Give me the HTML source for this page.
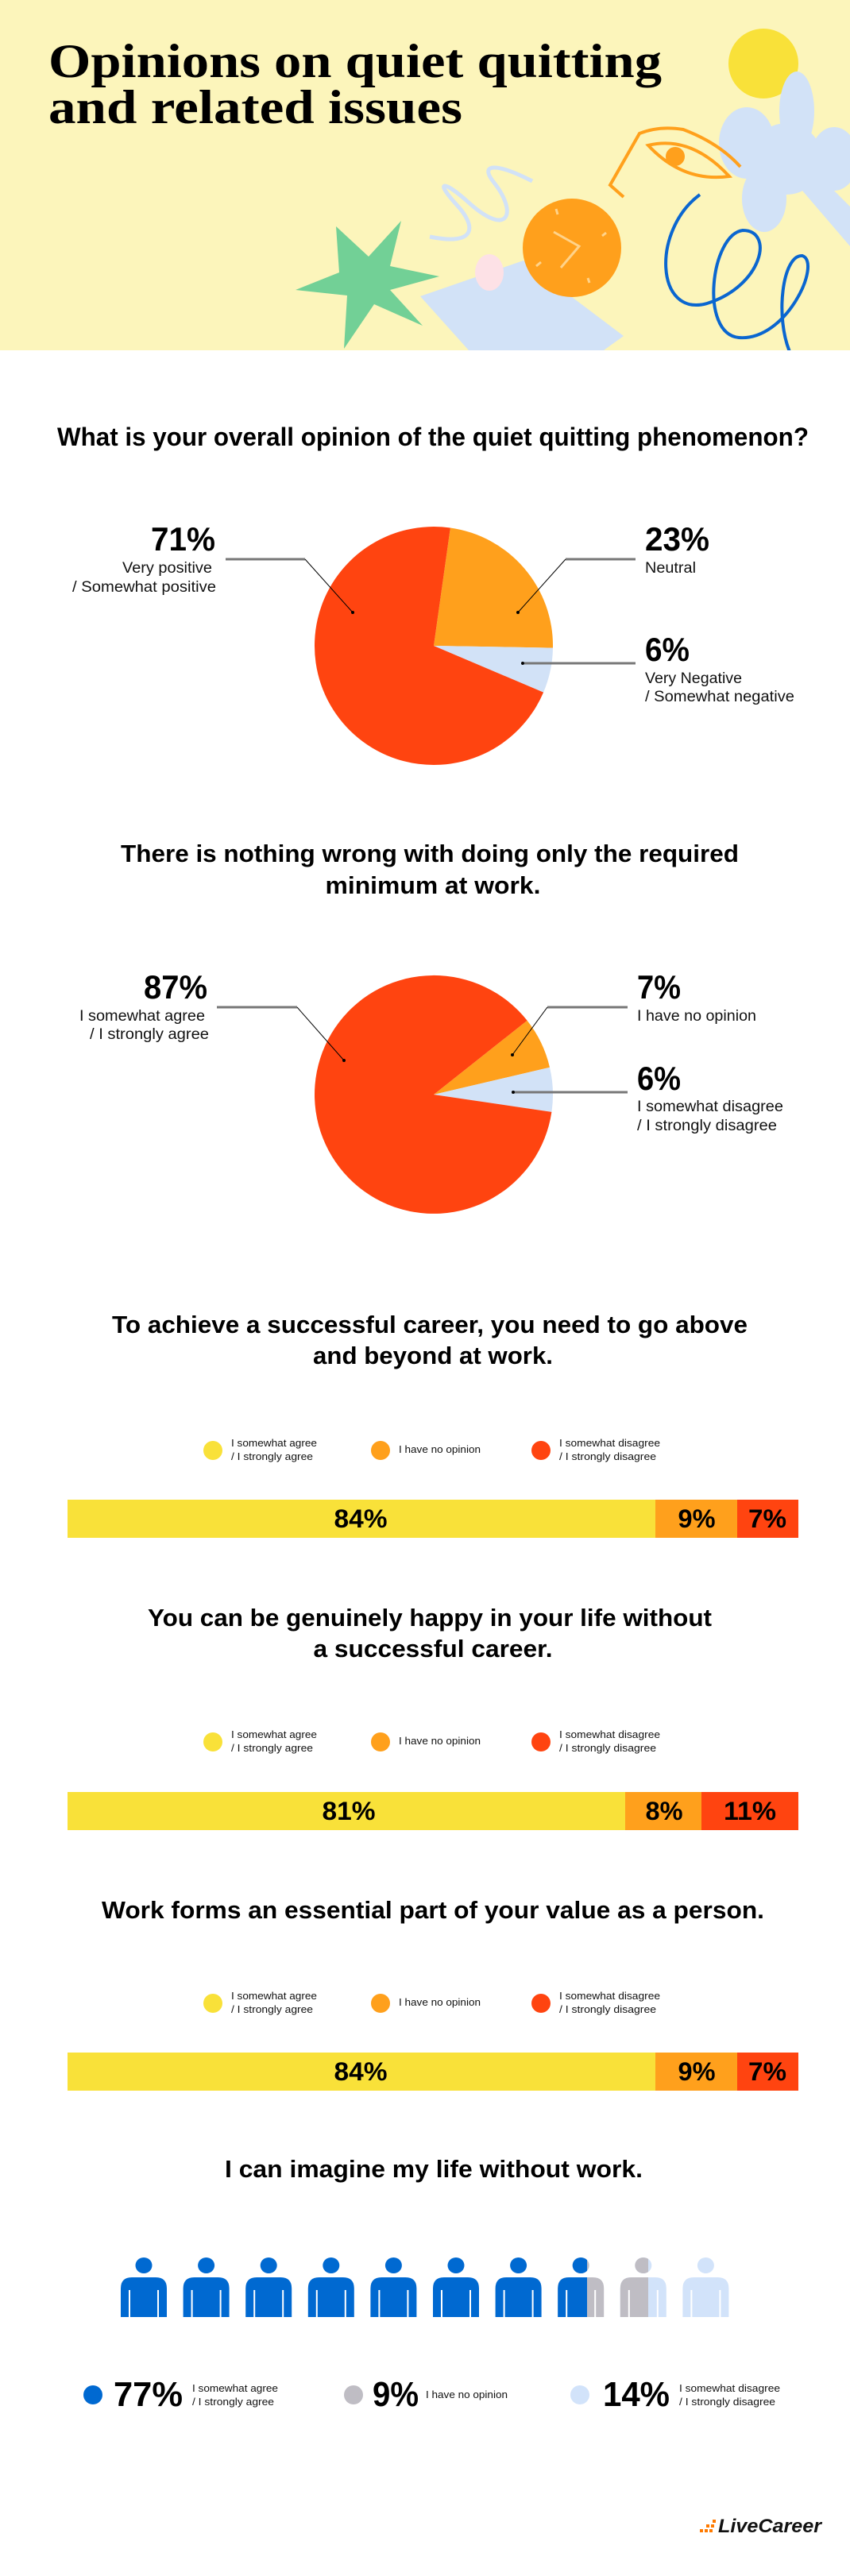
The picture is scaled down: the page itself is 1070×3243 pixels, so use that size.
<!DOCTYPE html>
<html><head><meta charset="utf-8"><style>
html,body{margin:0;padding:0;background:#fff;}
svg{display:block;}
.t{font-family:"Liberation Sans Narrow","Liberation Sans",sans-serif;font-weight:bold;fill:#000;}
.s{font-family:"Liberation Sans Narrow","Liberation Sans",sans-serif;fill:#111;}
</style></head><body>
<svg width="1070" height="3243" viewBox="0 0 1070 3243" xmlns="http://www.w3.org/2000/svg">
<defs>
<clipPath id="hdr"><rect x="0" y="0" width="1070" height="441"/></clipPath>
<clipPath id="c8"><rect x="0" y="2800" width="739" height="200"/></clipPath>
<clipPath id="c9"><rect x="0" y="2800" width="816" height="200"/></clipPath>
</defs>
<!-- Header -->
<rect x="0" y="0" width="1070" height="441" fill="#fcf5bb"/>
<g clip-path="url(#hdr)">
<circle cx="961" cy="80" r="44" fill="#f9e139"/>
<g fill="#d2e2f7">
<ellipse cx="1003" cy="140" rx="22" ry="50"/>
<ellipse cx="940" cy="180" rx="35" ry="45"/>
<ellipse cx="1050" cy="200" rx="30" ry="40"/>
<ellipse cx="962" cy="250" rx="28" ry="42"/>
<circle cx="990" cy="200" r="45"/>
<polygon points="1030,220 1070,260 1070,310 1010,240"/>
</g>
<g fill="none" stroke="#ffa01c" stroke-width="4">
<path d="M785 248 L768 233 L805 168 Q830 158 860 163 Q905 180 932 210"/>
<path d="M816 183 Q870 170 918 222 Q860 230 816 183 Z"/>
</g>
<circle cx="850" cy="197" r="12" fill="#ffa01c"/>
<path d="M541 298 C600 310 600 285 575 258 C545 225 560 228 590 255 C640 300 652 268 622 230 C602 205 625 205 670 228" fill="none" stroke="#d2e2f7" stroke-width="5"/>
<polygon points="423,285 464,323 505,278 491,335 553,348 491,365 532,410 471,383 433,439 437,372 372,365 427,343" fill="#72d096"/>
<polygon points="529,373 659,328 785,423 760,441 590,441" fill="#d2e2f7"/>
<ellipse cx="616" cy="343" rx="18" ry="23" fill="#fde1e6"/>
<circle cx="720" cy="312" r="62" fill="#ffa01c"/>
<polyline points="697,292 729,310 706,337" fill="none" stroke="#ffd38a" stroke-width="3"/>
<g stroke="#ffd38a" stroke-width="3">
<line x1="700" y1="263" x2="702" y2="270"/><line x1="763" y1="293" x2="758" y2="297"/>
<line x1="742" y1="356" x2="740" y2="350"/><line x1="675" y1="335" x2="681" y2="330"/>
</g>
<path d="M881 245 C820 290 825 400 890 382 C960 360 975 290 935 290 C895 295 880 420 930 425 C990 430 1035 330 1010 322 C985 320 975 400 995 445" fill="none" stroke="#0a66d0" stroke-width="4"/>
</g>
<text x="61" y="97" font-family="'Liberation Serif',serif" font-weight="bold" font-size="60" textLength="772" lengthAdjust="spacingAndGlyphs">Opinions on quiet quitting</text>
<text x="61" y="155" font-family="'Liberation Serif',serif" font-weight="bold" font-size="60" textLength="521" lengthAdjust="spacingAndGlyphs">and related issues</text>

<!-- Section 1 -->
<text class="t" x="545" y="561" font-size="32" text-anchor="middle" textLength="946" lengthAdjust="spacingAndGlyphs">What is your overall opinion of the quiet quitting phenomenon?</text>
<path d="M546 813 L566.9 664.5 A150 150 0 0 1 696.0 815.6 Z" fill="#ffa01c"/>
<path d="M546 813 L696.0 815.6 A150 150 0 0 1 684.1 871.6 Z" fill="#d2e2f7"/>
<path d="M546 813 L684.1 871.6 A150 150 0 1 1 566.9 664.5 Z" fill="#ff4410"/>
<g stroke="#777" stroke-width="3"><line x1="284" y1="704" x2="384" y2="704"/><line x1="712" y1="704" x2="800" y2="704"/><line x1="660" y1="835" x2="800" y2="835"/></g>
<g stroke="#000" stroke-width="1"><line x1="384" y1="704" x2="444" y2="771"/><line x1="712" y1="704" x2="652" y2="771"/></g>
<g fill="#000"><circle cx="444" cy="771" r="2"/><circle cx="652" cy="771" r="2"/><circle cx="658" cy="835" r="2"/></g>
<text class="t" x="271" y="693" font-size="42" text-anchor="end" textLength="81" lengthAdjust="spacingAndGlyphs">71%</text>
<text class="s" x="267" y="721" font-size="19" text-anchor="end" textLength="113" lengthAdjust="spacingAndGlyphs">Very positive</text>
<text class="s" x="272" y="745" font-size="19" text-anchor="end" textLength="181" lengthAdjust="spacingAndGlyphs">/ Somewhat positive</text>
<text class="t" x="812" y="693" font-size="42" textLength="81" lengthAdjust="spacingAndGlyphs">23%</text>
<text class="s" x="812" y="721" font-size="19" textLength="64" lengthAdjust="spacingAndGlyphs">Neutral</text>
<text class="t" x="812" y="832" font-size="42" textLength="56" lengthAdjust="spacingAndGlyphs">6%</text>
<text class="s" x="812" y="860" font-size="19" textLength="122" lengthAdjust="spacingAndGlyphs">Very Negative</text>
<text class="s" x="812" y="883" font-size="19" textLength="188" lengthAdjust="spacingAndGlyphs">/ Somewhat negative</text>

<!-- Section 2 -->
<text class="t" x="541" y="1085" font-size="31" text-anchor="middle" textLength="778" lengthAdjust="spacingAndGlyphs">There is nothing wrong with doing only the required</text>
<text class="t" x="545" y="1125" font-size="31" text-anchor="middle" textLength="271" lengthAdjust="spacingAndGlyphs">minimum at work.</text>
<path d="M546 1378 L663.6 1284.8 A150 150 0 0 1 692.0 1343.7 Z" fill="#ffa01c"/>
<path d="M546 1378 L692.0 1343.7 A150 150 0 0 1 694.4 1399.9 Z" fill="#d2e2f7"/>
<path d="M546 1378 L694.4 1399.9 A150 150 0 1 1 663.6 1284.8 Z" fill="#ff4410"/>
<g stroke="#777" stroke-width="3"><line x1="273" y1="1268" x2="374" y2="1268"/><line x1="689" y1="1268" x2="790" y2="1268"/><line x1="647" y1="1375" x2="790" y2="1375"/></g>
<g stroke="#000" stroke-width="1"><line x1="374" y1="1268" x2="433" y2="1335"/><line x1="689" y1="1268" x2="645" y2="1328"/></g>
<g fill="#000"><circle cx="433" cy="1335" r="2"/><circle cx="645" cy="1328" r="2"/><circle cx="646" cy="1375" r="2"/></g>
<text class="t" x="261" y="1257" font-size="42" text-anchor="end" textLength="80" lengthAdjust="spacingAndGlyphs">87%</text>
<text class="s" x="258" y="1285" font-size="19" text-anchor="end" textLength="158" lengthAdjust="spacingAndGlyphs">I somewhat agree</text>
<text class="s" x="263" y="1308" font-size="19" text-anchor="end" textLength="150" lengthAdjust="spacingAndGlyphs">/ I strongly agree</text>
<text class="t" x="802" y="1257" font-size="42" textLength="55" lengthAdjust="spacingAndGlyphs">7%</text>
<text class="s" x="802" y="1285" font-size="19" textLength="150" lengthAdjust="spacingAndGlyphs">I have no opinion</text>
<text class="t" x="802" y="1372" font-size="42" textLength="55" lengthAdjust="spacingAndGlyphs">6%</text>
<text class="s" x="802" y="1399" font-size="19" textLength="184" lengthAdjust="spacingAndGlyphs">I somewhat disagree</text>
<text class="s" x="802" y="1423" font-size="19" textLength="176" lengthAdjust="spacingAndGlyphs">/ I strongly disagree</text>

<!-- Section 3 -->
<text class="t" x="541" y="1678" font-size="31" text-anchor="middle" textLength="800" lengthAdjust="spacingAndGlyphs">To achieve a successful career, you need to go above</text>
<text class="t" x="545" y="1717" font-size="31" text-anchor="middle" textLength="302" lengthAdjust="spacingAndGlyphs">and beyond at work.</text>
<g id="leg3">
<circle cx="268" cy="1826" r="12" fill="#f9e139"/><circle cx="479" cy="1826" r="12" fill="#ffa01c"/><circle cx="681" cy="1826" r="12" fill="#ff4410"/>
<text class="s" x="291" y="1821" font-size="13" textLength="108" lengthAdjust="spacingAndGlyphs">I somewhat agree</text>
<text class="s" x="291" y="1838" font-size="13" textLength="103" lengthAdjust="spacingAndGlyphs">/ I strongly agree</text>
<text class="s" x="502" y="1829" font-size="13" textLength="103" lengthAdjust="spacingAndGlyphs">I have no opinion</text>
<text class="s" x="704" y="1821" font-size="13" textLength="127" lengthAdjust="spacingAndGlyphs">I somewhat disagree</text>
<text class="s" x="704" y="1838" font-size="13" textLength="122" lengthAdjust="spacingAndGlyphs">/ I strongly disagree</text>
</g>
<rect x="85" y="1888" width="740" height="48" fill="#f9e139"/><rect x="825" y="1888" width="103" height="48" fill="#ffa01c"/><rect x="928" y="1888" width="77" height="48" fill="#ff4410"/>
<text class="t" x="454" y="1923" font-size="32" text-anchor="middle" textLength="67" lengthAdjust="spacingAndGlyphs">84%</text>
<text class="t" x="877" y="1923" font-size="32" text-anchor="middle" textLength="47" lengthAdjust="spacingAndGlyphs">9%</text>
<text class="t" x="966" y="1923" font-size="32" text-anchor="middle" textLength="48" lengthAdjust="spacingAndGlyphs">7%</text>

<!-- Section 4 -->
<text class="t" x="541" y="2047" font-size="31" text-anchor="middle" textLength="710" lengthAdjust="spacingAndGlyphs">You can be genuinely happy in your life without</text>
<text class="t" x="545" y="2086" font-size="31" text-anchor="middle" textLength="301" lengthAdjust="spacingAndGlyphs">a successful career.</text>
<use href="#leg3" transform="translate(0,367)"/>
<rect x="85" y="2256" width="702" height="48" fill="#f9e139"/><rect x="787" y="2256" width="96" height="48" fill="#ffa01c"/><rect x="883" y="2256" width="122" height="48" fill="#ff4410"/>
<text class="t" x="439" y="2291" font-size="32" text-anchor="middle" textLength="67" lengthAdjust="spacingAndGlyphs">81%</text>
<text class="t" x="836" y="2291" font-size="32" text-anchor="middle" textLength="47" lengthAdjust="spacingAndGlyphs">8%</text>
<text class="t" x="944" y="2291" font-size="32" text-anchor="middle" textLength="66" lengthAdjust="spacingAndGlyphs">11%</text>

<!-- Section 5 -->
<text class="t" x="545" y="2415" font-size="31" text-anchor="middle" textLength="834" lengthAdjust="spacingAndGlyphs">Work forms an essential part of your value as a person.</text>
<use href="#leg3" transform="translate(0,696)"/>
<rect x="85" y="2584" width="740" height="48" fill="#f9e139"/><rect x="825" y="2584" width="103" height="48" fill="#ffa01c"/><rect x="928" y="2584" width="77" height="48" fill="#ff4410"/>
<text class="t" x="454" y="2619" font-size="32" text-anchor="middle" textLength="67" lengthAdjust="spacingAndGlyphs">84%</text>
<text class="t" x="877" y="2619" font-size="32" text-anchor="middle" textLength="47" lengthAdjust="spacingAndGlyphs">9%</text>
<text class="t" x="966" y="2619" font-size="32" text-anchor="middle" textLength="48" lengthAdjust="spacingAndGlyphs">7%</text>

<!-- Section 6 -->
<text class="t" x="546" y="2741" font-size="31" text-anchor="middle" textLength="526" lengthAdjust="spacingAndGlyphs">I can imagine my life without work.</text>
<defs>
<g id="p"><ellipse cx="0" cy="2852" rx="10.5" ry="10"/><path d="M-29 2917 V2881 Q-29 2867 -15 2867 H15 Q29 2867 29 2881 V2917 Z"/></g>
</defs>
<g fill="#0069d1">
<use href="#p" x="181"/><use href="#p" x="259.6"/><use href="#p" x="338.2"/><use href="#p" x="416.8"/><use href="#p" x="495.4"/><use href="#p" x="574"/><use href="#p" x="652.6"/>
</g>
<use href="#p" x="731.2" fill="#bfbdc4"/>
<g clip-path="url(#c8)"><use href="#p" x="731.2" fill="#0069d1"/></g>
<use href="#p" x="809.8" fill="#d2e3fa"/>
<g clip-path="url(#c9)"><use href="#p" x="809.8" fill="#bfbdc4"/></g>
<use href="#p" x="888.4" fill="#d2e3fa"/>
<g stroke="#fff" stroke-width="2">
<line x1="163" y1="2883" x2="163" y2="2917"/><line x1="199" y1="2883" x2="199" y2="2917"/>
<line x1="241.6" y1="2883" x2="241.6" y2="2917"/><line x1="277.6" y1="2883" x2="277.6" y2="2917"/>
<line x1="320.2" y1="2883" x2="320.2" y2="2917"/><line x1="356.2" y1="2883" x2="356.2" y2="2917"/>
<line x1="398.8" y1="2883" x2="398.8" y2="2917"/><line x1="434.8" y1="2883" x2="434.8" y2="2917"/>
<line x1="477.4" y1="2883" x2="477.4" y2="2917"/><line x1="513.4" y1="2883" x2="513.4" y2="2917"/>
<line x1="556" y1="2883" x2="556" y2="2917"/><line x1="592" y1="2883" x2="592" y2="2917"/>
<line x1="634.6" y1="2883" x2="634.6" y2="2917"/><line x1="670.6" y1="2883" x2="670.6" y2="2917"/>
<line x1="713.2" y1="2883" x2="713.2" y2="2917"/><line x1="749.2" y1="2883" x2="749.2" y2="2917"/>
<line x1="791.8" y1="2883" x2="791.8" y2="2917"/><line x1="827.8" y1="2883" x2="827.8" y2="2917"/>
<line x1="870.4" y1="2883" x2="870.4" y2="2917"/><line x1="906.4" y1="2883" x2="906.4" y2="2917"/>
</g>
<circle cx="117" cy="3015" r="12" fill="#0069d1"/><circle cx="445" cy="3015" r="12" fill="#bfbdc4"/><circle cx="730" cy="3015" r="12" fill="#d2e3fa"/>
<text class="t" x="143" y="3029" font-size="44" textLength="87" lengthAdjust="spacingAndGlyphs">77%</text>
<text class="t" x="469" y="3029" font-size="44" textLength="58" lengthAdjust="spacingAndGlyphs">9%</text>
<text class="t" x="759" y="3029" font-size="44" textLength="84" lengthAdjust="spacingAndGlyphs">14%</text>
<text class="s" x="242" y="3011" font-size="13" textLength="108" lengthAdjust="spacingAndGlyphs">I somewhat agree</text>
<text class="s" x="242" y="3028" font-size="13" textLength="103" lengthAdjust="spacingAndGlyphs">/ I strongly agree</text>
<text class="s" x="536" y="3019" font-size="13" textLength="103" lengthAdjust="spacingAndGlyphs">I have no opinion</text>
<text class="s" x="855" y="3011" font-size="13" textLength="127" lengthAdjust="spacingAndGlyphs">I somewhat disagree</text>
<text class="s" x="855" y="3028" font-size="13" textLength="121" lengthAdjust="spacingAndGlyphs">/ I strongly disagree</text>

<!-- Logo -->
<g fill="#ff7a00">
<rect x="881" y="3184" width="4" height="4"/><rect x="887" y="3184" width="4" height="4"/><rect x="893" y="3184" width="4" height="4"/>
<rect x="889" y="3178" width="4" height="4"/><rect x="895" y="3178" width="4" height="4"/>
<rect x="897" y="3172" width="4" height="4"/>
</g>
<text x="904" y="3188" font-family="'Liberation Sans Narrow','Liberation Sans',sans-serif" font-weight="bold" font-style="italic" font-size="24" fill="#111" textLength="130" lengthAdjust="spacingAndGlyphs">LiveCareer</text>
</svg>
</body></html>
